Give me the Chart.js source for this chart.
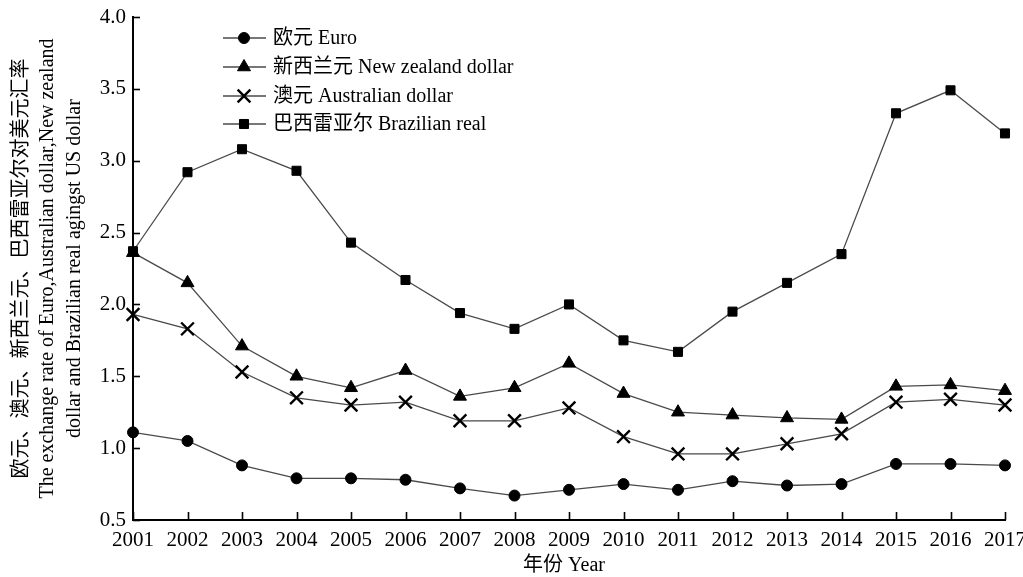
<!DOCTYPE html>
<html>
<head>
<meta charset="utf-8">
<script src="https://cdn.jsdelivr.net/npm/chart.js@4.4.1/dist/chart.umd.min.js"></script>
<style>
  html, body { margin: 0; padding: 0; background: #fff; }
  #wrap { width: 1023px; height: 577px; }
</style>
</head>
<body>
<div id="wrap"><canvas id="c" width="1023" height="577"></canvas></div>
<script>
// Exchange rates against the US dollar, 2001-2017
const years = ['2001','2002','2003','2004','2005','2006','2007','2008','2009',
               '2010','2011','2012','2013','2014','2015','2016','2017'];
const euro = [1.11,1.05,0.88,0.79,0.79,0.78,0.72,0.67,0.71,0.75,0.71,0.77,0.74,0.75,0.89,0.89,0.88];
const nzDollar = [2.36,2.15,1.71,1.50,1.42,1.54,1.36,1.42,1.59,1.38,1.25,1.23,1.21,1.20,1.43,1.44,1.40];
const ausDollar = [1.93,1.83,1.53,1.35,1.30,1.32,1.19,1.19,1.28,1.08,0.96,0.96,1.03,1.10,1.32,1.34,1.30];
const brlReal = [2.37,2.92,3.08,2.93,2.43,2.17,1.94,1.83,2.00,1.75,1.67,1.95,2.15,2.35,3.33,3.49,3.19];

const seriesNames = ['欧元 Euro', '新西兰元 New zealand dollar', '澳元 Australian dollar', '巴西雷亚尔 Brazilian real'];
const yTicks = [0.5, 1.0, 1.5, 2.0, 2.5, 3.0, 3.5, 4.0];
const yTitleLines = ['欧元、澳元、新西兰元、巴西雷亚尔对美元汇率',
                     'The exchange rate of Euro,Australian dollar,New zealand',
                     'dollar and Brazilian real agingst US dollar'];
const xTitle = '年份 Year';

const FONT = '"Liberation Serif", "Noto Sans CJK SC", serif';
const LINE = '#4a4a4a';
const INK = '#000';

function series(label, data, style, radius, bw) {
  return {
    label, data,
    borderColor: LINE, borderWidth: 1.3,
    pointStyle: style, pointRadius: radius, pointHoverRadius: radius,
    pointBackgroundColor: INK, pointBorderColor: INK, pointBorderWidth: bw,
    tension: 0, fill: false, clip: false
  };
}

const datasets = [
  series(seriesNames[0], euro, 'circle', 5.5, 1),
  series(seriesNames[1], nzDollar, 'triangle', 7.5, 1),
  series(seriesNames[2], ausDollar, 'crossRot', 9, 2.4),
  series(seriesNames[3], brlReal, 'rect', 6.4, 1)
];

// Inward tick marks, legend block and axis titles
const decorations = {
  id: 'decorations',
  afterDatasetsDraw(chart) {
    const ctx = chart.ctx;
    const area = chart.chartArea;
    const xs = chart.scales.x, ys = chart.scales.y;
    ctx.save();
    ctx.strokeStyle = INK;
    ctx.lineWidth = 1.6;
    yTicks.forEach(v => {
      const y = Math.round(ys.getPixelForValue(v)) + 0.5;
      ctx.beginPath(); ctx.moveTo(area.left, y); ctx.lineTo(area.left + 7, y); ctx.stroke();
    });
    years.forEach((_, i) => {
      const x = Math.round(xs.getPixelForValue(i)) + 0.5;
      ctx.beginPath(); ctx.moveTo(x, area.bottom); ctx.lineTo(x, area.bottom - 8); ctx.stroke();
    });

    // legend
    const lx0 = 223, lx1 = 266, mx = 244, tx = 273;
    const rows = [38, 67, 96, 124];
    chart.data.datasets.forEach((ds, i) => {
      const y = rows[i];
      ctx.strokeStyle = ds.borderColor;
      ctx.lineWidth = ds.borderWidth;
      ctx.beginPath(); ctx.moveTo(lx0, y); ctx.lineTo(lx1, y); ctx.stroke();
      ctx.fillStyle = ds.pointBackgroundColor;
      ctx.strokeStyle = ds.pointBorderColor;
      ctx.lineWidth = ds.pointBorderWidth;
      Chart.helpers.drawPoint(ctx, {
        pointStyle: ds.pointStyle, radius: ds.pointRadius, rotation: 0, borderWidth: ds.pointBorderWidth
      }, mx, y);
      ctx.fillStyle = INK;
      ctx.font = '20px ' + FONT;
      ctx.textAlign = 'left';
      ctx.textBaseline = 'middle';
      ctx.fillText(ds.label, tx, y + 1);
    });

    // x title
    ctx.fillStyle = INK;
    ctx.font = '20px ' + FONT;
    ctx.textAlign = 'center';
    ctx.textBaseline = 'middle';
    ctx.fillText(xTitle, 564, 566);

    // y title, rotated
    const cy = (area.top + area.bottom) / 2;
    const cols = [22, 48, 75];
    yTitleLines.forEach((t, i) => {
      ctx.save();
      ctx.translate(cols[i], cy);
      ctx.rotate(-Math.PI / 2);
      ctx.font = '20px ' + FONT;
      ctx.textAlign = 'center';
      ctx.textBaseline = 'middle';
      ctx.fillText(t, 0, 0);
      ctx.restore();
    });
    ctx.restore();
  }
};

new Chart(document.getElementById('c'), {
  type: 'line',
  data: { labels: years, datasets },
  options: {
    responsive: false,
    animation: false,
    layout: { padding: { top: 17, right: 0, left: 0, bottom: 0 } },
    plugins: { legend: { display: false }, tooltip: { enabled: false } },
    scales: {
      x: {
        type: 'category',
        offset: false,
        grid: { display: false, drawTicks: false },
        border: { display: true, color: INK, width: 2 },
        ticks: { color: INK, font: { family: FONT, size: 21 }, padding: 8, maxRotation: 0, autoSkip: false },
        afterFit(scale) { scale.height = 57; scale.paddingRight = 18; }
      },
      y: {
        min: 0.5, max: 4.0,
        grid: { display: false, drawTicks: false },
        border: { display: true, color: INK, width: 2 },
        afterBuildTicks(scale) { scale.ticks = yTicks.map(v => ({ value: v })); },
        ticks: {
          color: INK, font: { family: FONT, size: 21 }, padding: 7,
          callback: v => Number(v).toFixed(1)
        },
        afterFit(scale) { scale.width = 133; scale.paddingTop = 0; scale.paddingBottom = 0; }
      }
    }
  },
  plugins: [decorations]
});
</script>
</body>
</html>
